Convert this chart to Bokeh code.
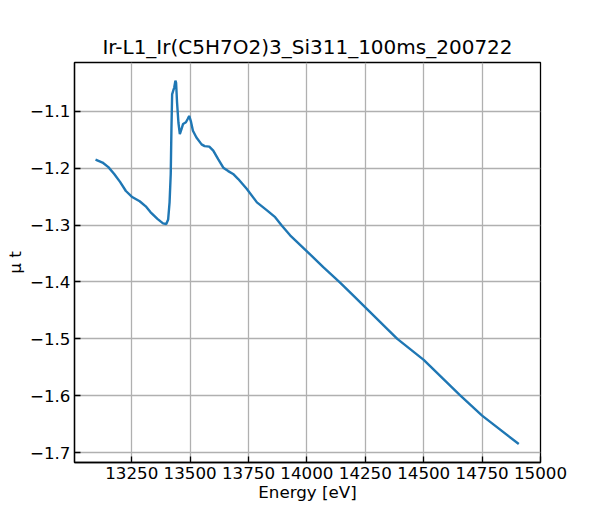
from bokeh.plotting import figure
from bokeh.models import Range1d, FixedTicker, CustomJSTickFormatter
from bokeh.embed import file_html
from bokeh.resources import INLINE

energy = [13095, 13125, 13150, 13175, 13200, 13225, 13250, 13284, 13310, 13330,
          13360, 13384, 13398, 13406, 13412, 13417, 13420, 13423, 13428, 13432,
          13437, 13440, 13444, 13450, 13456, 13463, 13470, 13482, 13490, 13496,
          13503, 13512, 13527, 13549, 13562, 13582, 13599, 13620, 13642, 13663,
          13684, 13706, 13742, 13786, 13829, 13864, 13893, 13928, 14000, 14070,
          14142, 14199, 14313, 14387, 14500, 14655, 14750, 14907]
mu_t = [-1.185, -1.190, -1.198, -1.210, -1.224, -1.240, -1.250, -1.258, -1.267, -1.277,
        -1.289, -1.297, -1.298, -1.290, -1.260, -1.210, -1.131, -1.070, -1.063, -1.058,
        -1.046, -1.050, -1.084, -1.120, -1.140, -1.131, -1.122, -1.119, -1.113, -1.108,
        -1.117, -1.134, -1.146, -1.158, -1.161, -1.162, -1.169, -1.184, -1.199, -1.205,
        -1.210, -1.219, -1.236, -1.260, -1.274, -1.286, -1.301, -1.318, -1.346, -1.374,
        -1.401, -1.424, -1.470, -1.500, -1.537, -1.599, -1.635, -1.685]
x_ticks = [13250, 13500, 13750, 14000, 14250, 14500, 14750, 15000]
y_ticks = [-1.7, -1.6, -1.5, -1.4, -1.3, -1.2, -1.1]

FONT = "DejaVu Sans"
X0, X1 = 13005, 15000
Y0, Y1 = -1.7175, -1.014

p = figure(width=584, height=504, output_backend="svg", toolbar_location=None,
           x_range=Range1d(X0, X1), y_range=Range1d(Y0, Y1),
           title="Ir-L1_Ir(C5H7O2)3_Si311_100ms_200722",
           min_border_left=74, min_border_right=44, min_border_top=62, min_border_bottom=41)

p.line(energy, mu_t, line_color="#1f77b4", line_width=2.4)

p.title.align = "center"
p.title.text_font = FONT
p.title.text_font_size = "20px"
p.title.text_font_style = "normal"
p.title.text_color = "black"
p.title.standoff = 7

p.outline_line_color = "black"
p.outline_line_width = 1.3
p.outline_line_alpha = 1.0

p.xaxis.ticker = FixedTicker(ticks=x_ticks)
p.yaxis.ticker = FixedTicker(ticks=y_ticks)
p.yaxis.formatter = CustomJSTickFormatter(code="return tick.toFixed(1).replace('-', '\u2212');")
p.xaxis.formatter = CustomJSTickFormatter(code="return tick.toFixed(0);")

for ax in (p.xaxis, p.yaxis):
    ax.major_tick_in = 6
    ax.major_tick_out = 0
    ax.minor_tick_in = 0
    ax.minor_tick_out = 0
    ax.major_tick_line_color = "black"
    ax.major_tick_line_width = 1.3
    ax.axis_line_color = "black"
    ax.axis_line_width = 1.3
    ax.major_label_text_font = FONT
    ax.major_label_text_font_size = "16.7px"
    ax.major_label_text_color = "black"
    ax.axis_label_text_font = FONT
    ax.axis_label_text_font_size = "16.7px"
    ax.axis_label_text_font_style = "normal"
    ax.axis_label_text_color = "black"

p.xaxis.axis_label = "Energy [eV]"
p.xaxis.major_label_standoff = 4
p.xaxis.axis_label_standoff = 0
p.yaxis.axis_label = "μ t"
p.yaxis.major_label_standoff = 4
p.yaxis.axis_label_standoff = 2

p.grid.grid_line_color = "#b0b0b0"
p.grid.grid_line_width = 1.3
p.background_fill_color = "white"
p.border_fill_color = "white"

open("out.html", "w").write(file_html(p, INLINE))
